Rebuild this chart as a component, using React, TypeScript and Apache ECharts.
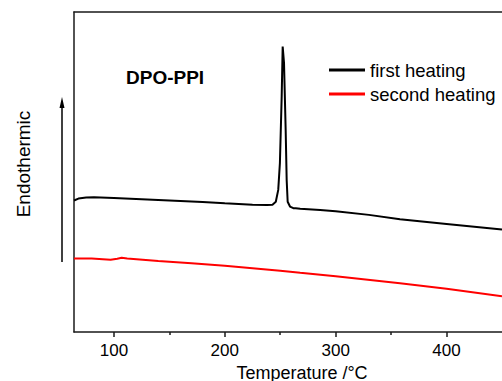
import React, { useEffect, useRef } from "react";
import * as echarts from "echarts";

// First heating (black) — temperature (°C) and heat flow (arbitrary units)
const firstTemps = [64, 68, 75, 82, 100, 120, 150, 180, 200, 225, 238, 243, 246, 248.2, 249.7, 251.3, 252.2, 253.4, 254.9, 255.8, 256.7, 258.8, 261.8, 264, 268, 286, 300, 330, 358, 400, 450];
const firstValues = [41.1, 41.7, 42.0, 42.1, 41.9, 41.6, 41.1, 40.6, 40.2, 39.8, 39.7, 39.8, 40.7, 44.4, 52.8, 73.5, 89.2, 84.1, 63.1, 47.5, 40.7, 39.2, 38.7, 38.65, 38.5, 38.1, 37.75, 36.6, 35.2, 33.75, 32.0];

// Second heating (red)
const secondTemps = [64, 80, 90, 97, 103, 107, 112, 140, 170, 200, 250, 268, 300, 358, 400, 450];
const secondValues = [23.0, 22.97, 22.75, 22.6, 22.9, 23.2, 23.0, 22.2, 21.5, 20.7, 19.15, 18.5, 17.4, 15.2, 13.5, 11.2];

const seriesNames = ["first heating", "second heating"];
const majorTicks = [100, 200, 300, 400];
const minorTicks = [150, 250, 350];
const sampleLabel = "DPO-PPI";
const xAxisTitle = "Temperature /°C";
const yAxisTitle = "Endothermic";

const FONT = "'Liberation Sans', Arial, sans-serif";

export default function App() {
  const ref = useRef<HTMLDivElement>(null);

  useEffect(() => {
    if (!ref.current) return;
    const chart = echarts.init(ref.current, undefined, { renderer: "svg" });
    const first = firstTemps.map((t, i) => [t, firstValues[i]]);
    const second = secondTemps.map((t, i) => [t, secondValues[i]]);
    const axisColor = "#1a1a1a";

    chart.setOption({
      animation: false,
      backgroundColor: "#ffffff",
      textStyle: { fontFamily: FONT },
      title: {
        text: sampleLabel,
        left: 126,
        top: 68,
        padding: 0,
        textStyle: { fontFamily: FONT, fontSize: 19, fontWeight: "bold", color: "#000" },
      },
      legend: {
        orient: "vertical",
        left: 329,
        top: 60,
        padding: 0,
        itemWidth: 36,
        itemHeight: 3,
        itemGap: 4,
        icon: "rect",
        textStyle: { fontFamily: FONT, fontSize: 18.5, color: "#000", lineHeight: 20 },
        data: seriesNames,
      },
      grid: { left: 74, right: 0, top: 12, bottom: 49, containLabel: false, outerBoundsMode: "none" },
      xAxis: [
        {
          type: "value",
          position: "bottom",
          min: 64,
          max: 450,
          name: xAxisTitle,
          nameLocation: "middle",
          nameGap: 28,
          nameTextStyle: { fontFamily: FONT, fontSize: 18, color: "#000", padding: [0, 0, 0, 28] },
          axisLine: { show: true, lineStyle: { color: axisColor, width: 1.5 } },
          axisTick: { show: true, length: 5, inside: false, customValues: majorTicks, lineStyle: { color: axisColor, width: 1.5 } },
          axisLabel: { show: true, customValues: majorTicks, margin: 10, fontFamily: FONT, fontSize: 17, color: "#000" },
          splitLine: { show: false },
        },
        {
          type: "value",
          position: "bottom",
          min: 64,
          max: 450,
          axisLine: { show: false },
          axisTick: { show: true, length: 3, customValues: minorTicks, lineStyle: { color: axisColor, width: 1.5 } },
          axisLabel: { show: false },
          splitLine: { show: false },
        },
        {
          type: "value",
          position: "top",
          min: 64,
          max: 450,
          axisLine: { show: true, lineStyle: { color: axisColor, width: 1.5 } },
          axisTick: { show: false },
          axisLabel: { show: false },
          splitLine: { show: false },
        },
      ],
      yAxis: {
        type: "value",
        min: 0,
        max: 100,
        axisLine: { show: true, lineStyle: { color: axisColor, width: 1.5 } },
        axisTick: { show: false },
        axisLabel: { show: false },
        splitLine: { show: false },
      },
      graphic: [
        {
          type: "text",
          x: 23,
          y: 164,
          rotation: Math.PI / 2,
          style: {
            text: yAxisTitle,
            font: `19px ${FONT}`,
            fill: "#000",
            align: "center",
            verticalAlign: "middle",
          },
        },
        {
          type: "line",
          shape: { x1: 62, y1: 262, x2: 62, y2: 104 },
          style: { stroke: "#000", lineWidth: 1.5 },
        },
        {
          type: "polygon",
          shape: { points: [[62, 97], [59.5, 108], [64.5, 108]] },
          style: { fill: "#000" },
        },
      ],
      series: [
        {
          name: seriesNames[0],
          type: "line",
          xAxisIndex: 0,
          data: first,
          showSymbol: false,
          symbol: "none",
          color: "#000000",
          lineStyle: { color: "#000000", width: 2 },
        },
        {
          name: seriesNames[1],
          type: "line",
          xAxisIndex: 0,
          data: second,
          showSymbol: false,
          symbol: "none",
          color: "#ff0000",
          lineStyle: { color: "#ff0000", width: 2 },
        },
      ],
    });

    return () => chart.dispose();
  }, []);

  return (
    <div
      ref={ref}
      style={{ position: "fixed", left: 0, top: 0, width: 502, height: 381, background: "#fff" }}
    />
  );
}
